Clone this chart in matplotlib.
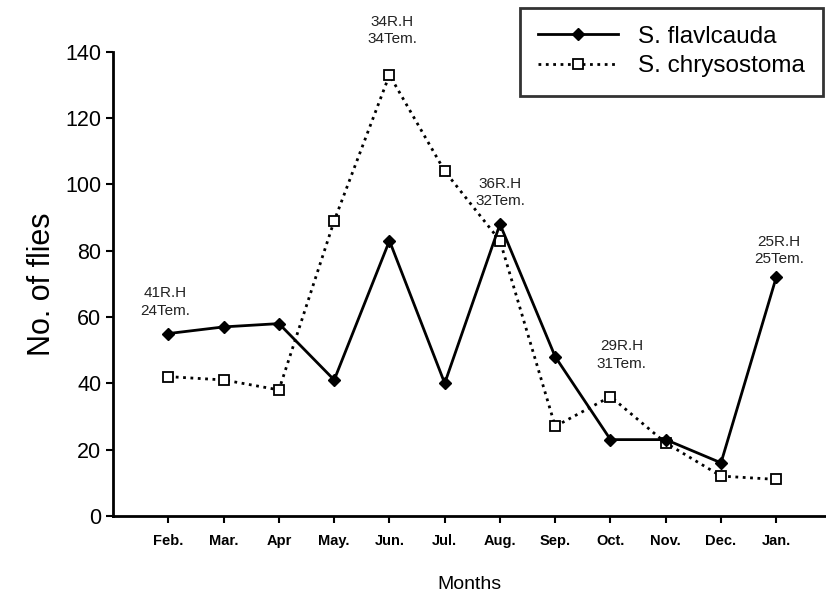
import numpy as np
import matplotlib
matplotlib.use('Agg')
import matplotlib.pyplot as plt

plt.rcParams['font.family'] = ['Liberation Sans', 'DejaVu Sans']

months = ['Feb.', 'Mar.', 'Apr', 'May.', 'Jun.', 'Jul.', 'Aug.', 'Sep.',
          'Oct.', 'Nov.', 'Dec.', 'Jan.']
flavicauda = [55, 57, 58, 41, 83, 40, 88, 48, 23, 23, 16, 72]
chrysostoma = [42, 41, 38, 89, 133, 104, 83, 27, 36, 22, 12, 11]

# Feuchte / Temperatur Notizen
notes = ['41R.H\n24Tem.', '34R.H\n34Tem.', '36R.H\n32Tem.', '29R.H\n31Tem.', '25R.H\n25Tem.']
note_x = [-0.05, 4.05, 6.0, 8.2, 11.05]
note_y = [64.5, 146.5, 97.5, 48.5, 80]

fig = plt.figure(figsize=(8.26, 5.95), dpi=100)
ax = fig.add_axes([0.137, 0.133, 0.863, 0.78])

x = np.arange(len(months))
ax.plot(x, flavicauda, '-', color='black', lw=2, marker='D', ms=6.5,
        mfc='black', mec='black', label='S. flavlcauda', clip_on=False, zorder=3)
ax.plot(x, chrysostoma, ':', color='black', lw=2, marker='s', ms=6.5,
        mfc='white', mec='black', mew=1.3, label='S. chrysostoma', clip_on=False, zorder=2)

for t, xx, yy in zip(notes, note_x, note_y):
    ax.text(xx, yy, t, ha='center', va='center', fontsize=11, linespacing=1.3,
            color='#222222', clip_on=False)

ax.set_xlim(-1, 11.9)
ax.set_ylim(0, 140)
ax.set_yticks(np.arange(0, 141, 20))
ax.set_xticks(x)
ax.set_xticklabels(months, fontsize=10.5, fontweight='semibold')
ax.tick_params(axis='y', labelsize=15.5, width=1.5, length=5)
ax.tick_params(axis='x', width=1.5, length=5, pad=8)
ax.spines['top'].set_visible(False)
ax.spines['right'].set_visible(False)
ax.spines['left'].set_linewidth(2)
ax.spines['bottom'].set_linewidth(2)

ax.set_ylabel('No. of flies', fontsize=22, labelpad=6)
ax.set_xlabel('Months', fontsize=14, labelpad=20)

leg = fig.legend(loc='upper right', bbox_to_anchor=(0.996, 0.987), fontsize=17.5,
                 frameon=True, fancybox=False, handlelength=3.3, handletextpad=0.8,
                 borderpad=0.75, labelspacing=0.3, borderaxespad=0)
leg.get_frame().set_edgecolor('black')
leg.get_frame().set_linewidth(2)

plt.savefig('out.png', dpi=100)
